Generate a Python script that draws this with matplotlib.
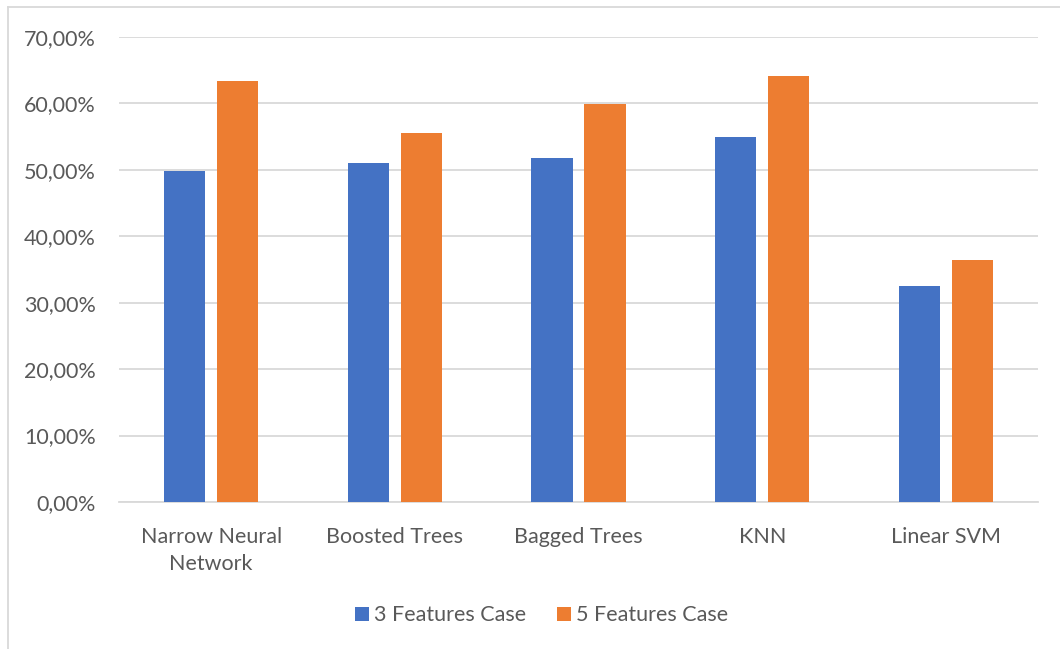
import matplotlib.pyplot as plt
import numpy as np
from matplotlib.ticker import FuncFormatter
from matplotlib.lines import Line2D

categories = ['Narrow Neural\nNetwork', 'Boosted Trees', 'Bagged Trees', 'KNN', 'Linear SVM']
features_3 = [49.9, 51.0, 51.8, 54.9, 32.5]
features_5 = [63.4, 55.6, 59.9, 64.1, 36.4]
series_names = ['3 Features Case', '5 Features Case']

BLUE = '#4472C4'
ORANGE = '#ED7D31'
TEXT = '#595959'
GRID = '#D9D9D9'

plt.rcParams['font.family'] = ['Lato', 'DejaVu Sans']

fig = plt.figure(figsize=(10.6, 6.49), dpi=100)
ax = fig.add_axes([0.1125, 0.2265, 0.8665, 0.7165])

x = np.arange(len(categories))
w = 0.224
gap = 0.064
ax.bar(x - (w + gap) / 2, features_3, width=w, color=BLUE, label=series_names[0], zorder=3)
ax.bar(x + (w + gap) / 2, features_5, width=w, color=ORANGE, label=series_names[1], zorder=3)

ax.set_ylim(0, 70)
ax.set_xlim(-0.5, len(categories) - 0.5)
ax.set_yticks(np.arange(0, 71, 10))
ax.yaxis.set_major_formatter(FuncFormatter(lambda v, p: f'{v:.2f}%'.replace('.', ',')))
ax.set_xticks(x)
ax.set_xticklabels(categories, linespacing=1.45)

ax.grid(axis='y', color=GRID, linewidth=1.3, zorder=0)
for s in ['top', 'right', 'left']:
    ax.spines[s].set_visible(False)
ax.spines['bottom'].set_color(GRID)
ax.spines['bottom'].set_linewidth(1.3)
ax.tick_params(axis='both', length=0, labelsize=15.5, colors=TEXT)
ax.tick_params(axis='y', pad=17)
ax.tick_params(axis='x', pad=18)

fig.legend(loc='center', bbox_to_anchor=(0.511, 0.052), ncol=2, frameon=False,
           fontsize=15.5, labelcolor=TEXT, handlelength=0.65, handleheight=0.65,
           handletextpad=0.25, columnspacing=1.4)

# outer chart border (left and top visible)
fig.add_artist(Line2D([8 / 1060, 8 / 1060], [0, 1 - 7 / 649], transform=fig.transFigure,
                      color=GRID, linewidth=1.3))
fig.add_artist(Line2D([8 / 1060, 1], [1 - 7 / 649, 1 - 7 / 649], transform=fig.transFigure,
                      color=GRID, linewidth=1.3))

fig.savefig('out.png', dpi=100)
